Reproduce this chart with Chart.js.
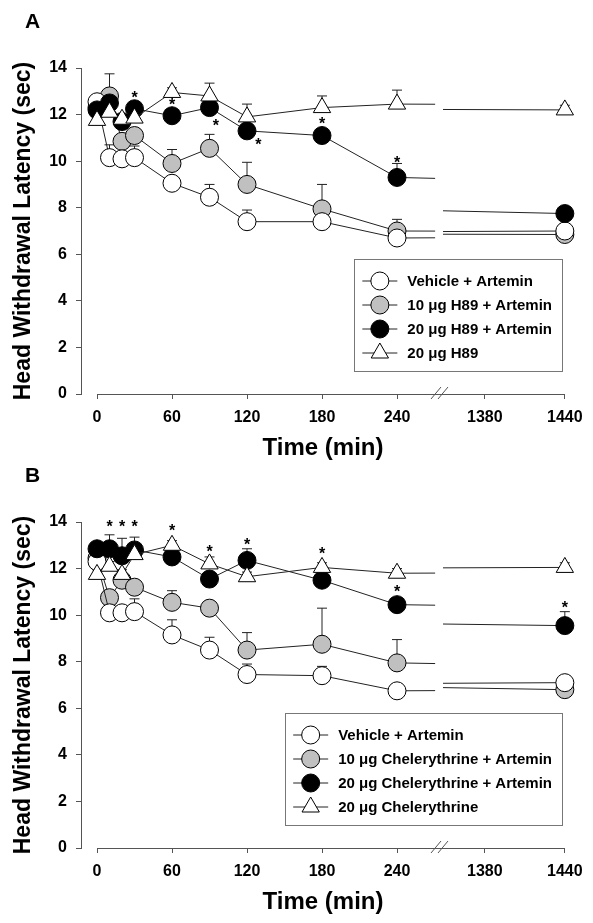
<!DOCTYPE html>
<html>
<head>
<meta charset="utf-8">
<title>Head withdrawal latency - H89 and chelerythrine</title>
<script src="https://cdn.jsdelivr.net/npm/chart.js@4.4.1/dist/chart.umd.min.js"></script>
<style>
  body { margin: 0; background: #fff; }
  .wrap { position: relative; width: 593px; height: 923px; }
  canvas { position: absolute; left: 0; display: block; }
  #panelA { top: 0; }
  #panelB { top: 454px; }
</style>
</head>
<body>
<div class="wrap">
  <canvas id="panelA" width="593" height="469"></canvas>
  <canvas id="panelB" width="593" height="469"></canvas>
</div>
<script>
// sampling times (min), same for every group
const times = [0, 10, 20, 30, 60, 90, 120, 180, 240, 1440];
const tickTimes = [0, 60, 120, 180, 240, 1380, 1440];
const tickLabels = ['0', '60', '120', '180', '240', '1380', '1440'];

// panel A : H89
const labelsA = ['Vehicle + Artemin', '10 \u03bcg H89 + Artemin', '20 \u03bcg H89 + Artemin', '20 \u03bcg H89'];
const vehicleA = [12.55, 10.15, 10.1, 10.15, 9.05, 8.45, 7.4, 7.4, 6.7, 7.0];
const vehicleErrA = [0.2, 0.55, 0.3, 0.5, 0.3, 0.55, 0.5, 0.3, 0.3, 0.3];
const h89LowA = [12.3, 12.8, 10.85, 11.1, 9.9, 10.55, 9.0, 7.95, 7.0, 6.85];
const h89LowErrA = [0.3, 0.95, 0.3, 0.3, 0.6, 0.6, 0.95, 1.05, 0.5, 0.2];
const h89HighA = [12.2, 12.5, 11.7, 12.25, 11.95, 12.3, 11.3, 11.1, 9.3, 7.75];
const h89HighErrA = [0.3, 0.3, 0.3, 0.3, 0.3, 0.3, 0.3, 0.3, 0.6, 0.3];
const h89OnlyA = [11.75, 12.1, 11.8, 11.85, 12.95, 12.8, 11.9, 12.3, 12.45, 12.2];
const h89OnlyErrA = [0.2, 0.2, 0.2, 0.2, 0.2, 0.55, 0.55, 0.5, 0.6, 0.2];
// asterisks as [time, latency]
const starsA = [[30, 12.9], [60, 12.6], [95, 11.7], [129, 10.85], [180, 11.75], [240, 10.1]];

// panel B : chelerythrine
const labelsB = ['Vehicle + Artemin', '10 \u03bcg Chelerythrine + Artemin', '20 \u03bcg Chelerythrine + Artemin', '20 \u03bcg Chelerythrine'];
const vehicleB = [12.3, 10.1, 10.1, 10.15, 9.15, 8.5, 7.45, 7.4, 6.75, 7.1];
const vehicleErrB = [0.2, 0.6, 0.3, 0.55, 0.65, 0.55, 0.45, 0.4, 0.15, 0.25];
const cheLowB = [12.45, 10.75, 11.5, 11.2, 10.55, 10.3, 8.5, 8.75, 7.95, 6.8];
const cheLowErrB = [0.2, 0.3, 0.3, 0.3, 0.5, 0.3, 0.75, 1.55, 1.0, 0.2];
const cheHighB = [12.85, 12.85, 12.55, 12.8, 12.5, 11.55, 12.35, 11.5, 10.45, 9.55];
const cheHighErrB = [0.2, 0.6, 0.75, 0.55, 0.3, 0.3, 0.5, 0.3, 0.3, 0.6];
const cheOnlyB = [11.75, 12.1, 11.75, 12.6, 13.0, 12.2, 11.65, 12.05, 11.8, 12.05];
const cheOnlyErrB = [0.2, 0.2, 0.2, 0.2, 0.2, 0.3, 0.2, 0.2, 0.2, 0.2];
const starsB = [[10, 13.95], [20, 13.95], [30, 13.95], [60, 13.8], [90, 12.9], [120, 13.2], [180, 12.8], [240, 11.15], [1440, 10.5]];

const FONT = '"Liberation Sans", Arial, Helvetica, sans-serif';
const LINE = '#222';
const AXIS = '#555';

// broken time axis: 0..274 at 1 unit/min, then 1346..1440 slightly stretched
const BREAK_L = 274, BREAK_R = 1346, STRETCH = 1.0667;
const GAP_L = 270.5, GAP_R = 276.8;   // where the lines stop / restart (axis units)
function toAxis(t) { return t <= BREAK_L ? t : BREAK_L + (t - BREAK_R) * STRETCH; }
function fromAxis(u) { return u <= BREAK_L ? u : BREAK_R + (u - BREAK_L) / STRETCH; }

// marker looks for the four groups, legend order
const looks = [
  { style: 'circle', fill: '#ffffff', r: 9, order: 2 },
  { style: 'circle', fill: '#c0c0c0', r: 9, order: 3 },
  { style: 'circle', fill: '#000000', r: 9, order: 1 },
  { style: 'triangle', fill: '#ffffff', r: 10, order: 0 }
];

function drawMarker(ctx, look, x, y) {
  ctx.beginPath();
  if (look.style === 'triangle') {
    const r = look.r;
    ctx.moveTo(x, y - r);
    ctx.lineTo(x + r * 0.866, y + r * 0.5);
    ctx.lineTo(x - r * 0.866, y + r * 0.5);
    ctx.closePath();
  } else {
    ctx.arc(x, y, look.r, 0, Math.PI * 2);
  }
  ctx.fillStyle = look.fill;
  ctx.fill();
  ctx.strokeStyle = '#000';
  ctx.lineWidth = 1;
  ctx.stroke();
}

function makeDecor(letter, labels, stars) {
  return {
    id: 'decor' + letter,
    beforeDatasetsDraw(chart) {
      const { ctx, scales: { x, y } } = chart;
      ctx.save();
      ctx.strokeStyle = LINE;
      ctx.lineWidth = 1;
      chart.data.datasets.forEach(ds => {
        const pts = ds.data;
        const n = pts.length;
        // the 240 -> 1440 link is cut where the axis breaks
        const a = pts[n - 2], b = pts[n - 1];
        const ta = fromAxis(a.x), tb = fromAxis(b.x);
        const at = t => a.y + (b.y - a.y) * (t - ta) / (tb - ta);
        ctx.beginPath();
        ctx.moveTo(x.getPixelForValue(a.x), y.getPixelForValue(a.y));
        ctx.lineTo(x.getPixelForValue(GAP_L), y.getPixelForValue(at(fromAxis(GAP_L))));
        ctx.moveTo(x.getPixelForValue(GAP_R), y.getPixelForValue(at(fromAxis(GAP_R))));
        ctx.lineTo(x.getPixelForValue(b.x), y.getPixelForValue(b.y));
        ctx.stroke();
        // SEM, upper side only
        ds.errors.forEach((e, i) => {
          if (!e) return;
          const px = x.getPixelForValue(pts[i].x);
          const y0 = y.getPixelForValue(pts[i].y);
          const y1 = y.getPixelForValue(pts[i].y + e);
          ctx.beginPath();
          ctx.moveTo(px, y0);
          ctx.lineTo(px, y1);
          ctx.moveTo(px - 5, y1);
          ctx.lineTo(px + 5, y1);
          ctx.stroke();
        });
      });
      ctx.restore();
    },
    afterDraw(chart) {
      const { ctx, chartArea, scales: { x, y } } = chart;
      ctx.save();
      // x axis line with the // break
      const yb = y.getPixelForValue(0);
      ctx.strokeStyle = AXIS;
      ctx.lineWidth = 1;
      ctx.beginPath();
      ctx.moveTo(x.getPixelForValue(toAxis(0)), yb + 0.5);
      ctx.lineTo(x.getPixelForValue(toAxis(1440)), yb + 0.5);
      ctx.stroke();
      const xb = x.getPixelForValue(BREAK_L);
      ctx.beginPath();
      [-3.5, 3.5].forEach(d => {
        ctx.moveTo(xb + d - 5, yb + 5);
        ctx.lineTo(xb + d + 5, yb - 7);
      });
      ctx.stroke();

      // asterisks
      ctx.fillStyle = '#000';
      ctx.textAlign = 'center';
      ctx.textBaseline = 'alphabetic';
      ctx.font = 'bold 16px ' + FONT;
      stars.forEach(s => {
        ctx.fillText('*', x.getPixelForValue(toAxis(s[0])), y.getPixelForValue(s[1]) + 9);
      });

      // legend box
      ctx.font = 'bold 15px ' + FONT;
      const textW = Math.max(...labels.map(l => ctx.measureText(l).width));
      const right = chartArea.right - 3;
      const bottom = chartArea.bottom - 23;
      const width = 8 + 35 + 10 + textW + 10;
      const left = right - width;
      const top = bottom - 112;
      ctx.strokeStyle = '#777';
      ctx.strokeRect(Math.round(left) + 0.5, Math.round(top) + 0.5, Math.round(width), 112);
      labels.forEach((l, i) => {
        const cy = top + 22 + i * 24;
        ctx.strokeStyle = LINE;
        ctx.beginPath();
        ctx.moveTo(left + 8, cy);
        ctx.lineTo(left + 43, cy);
        ctx.stroke();
        drawMarker(ctx, looks[i], left + 25.5, cy);
        ctx.fillStyle = '#000';
        ctx.textAlign = 'left';
        ctx.textBaseline = 'middle';
        ctx.fillText(l, left + 53, cy + 1);
      });

      // panel letter
      ctx.font = 'bold 21px ' + FONT;
      ctx.textAlign = 'left';
      ctx.textBaseline = 'alphabetic';
      ctx.fillText(letter, 25, 28);
      ctx.restore();
    }
  };
}

function makeDataset(label, values, errors, look) {
  return {
    label: label,
    data: times.map((t, i) => ({ x: toAxis(t), y: values[i] })),
    errors: errors,
    order: look.order,
    borderColor: LINE,
    borderWidth: 1,
    pointStyle: look.style,
    pointRadius: look.r,
    pointBackgroundColor: look.fill,
    pointBorderColor: '#000',
    pointBorderWidth: 1,
    clip: false,
    tension: 0,
    segment: {
      borderColor: c => (c.p1DataIndex === times.length - 1 ? 'rgba(0,0,0,0)' : LINE)
    }
  };
}

const tickFont = { family: FONT, size: 16, weight: 'bold' };

function makePanel(id, letter, labels, series, errs, stars) {
  new Chart(document.getElementById(id), {
    type: 'line',
    data: {
      datasets: series.map((s, i) => makeDataset(labels[i], s, errs[i], looks[i]))
    },
    options: {
      responsive: false,
      animation: false,
      layout: { padding: { top: 68, right: 28, bottom: 15, left: 0 } },
      plugins: { legend: { display: false }, tooltip: { enabled: false } },
      scales: {
        x: {
          type: 'linear',
          min: -12.8,
          max: 374.4,
          afterBuildTicks: s => { s.ticks = tickTimes.map(t => ({ value: toAxis(t) })); },
          afterFit: s => { s.height = 60; },
          ticks: {
            autoSkip: false, maxRotation: 0, padding: 9, color: '#000', font: tickFont,
            callback: (v, i) => tickLabels[i]
          },
          grid: { drawOnChartArea: false, tickLength: 5, color: AXIS },
          border: { display: false },
          title: {
            display: true, text: 'Time (min)', color: '#000',
            font: { family: FONT, size: 24, weight: 'bold' },
            padding: { top: 0, bottom: -9 }
          }
        },
        y: {
          min: 0,
          max: 14,
          afterFit: s => { s.width = 81; },
          ticks: { stepSize: 2, padding: 9, color: '#000', font: tickFont },
          grid: { drawOnChartArea: false, tickLength: 5, color: AXIS },
          border: { display: true, color: AXIS, width: 1 },
          title: {
            display: true, text: 'Head Withdrawal Latency (sec)', color: '#000',
            font: { family: FONT, size: 23, weight: 'bold' },
            padding: { top: 10, bottom: 0 }
          }
        }
      }
    },
    plugins: [makeDecor(letter, labels, stars)]
  });
}

makePanel('panelA', 'A', labelsA,
  [vehicleA, h89LowA, h89HighA, h89OnlyA],
  [vehicleErrA, h89LowErrA, h89HighErrA, h89OnlyErrA], starsA);
makePanel('panelB', 'B', labelsB,
  [vehicleB, cheLowB, cheHighB, cheOnlyB],
  [vehicleErrB, cheLowErrB, cheHighErrB, cheOnlyErrB], starsB);
</script>
</body>
</html>
